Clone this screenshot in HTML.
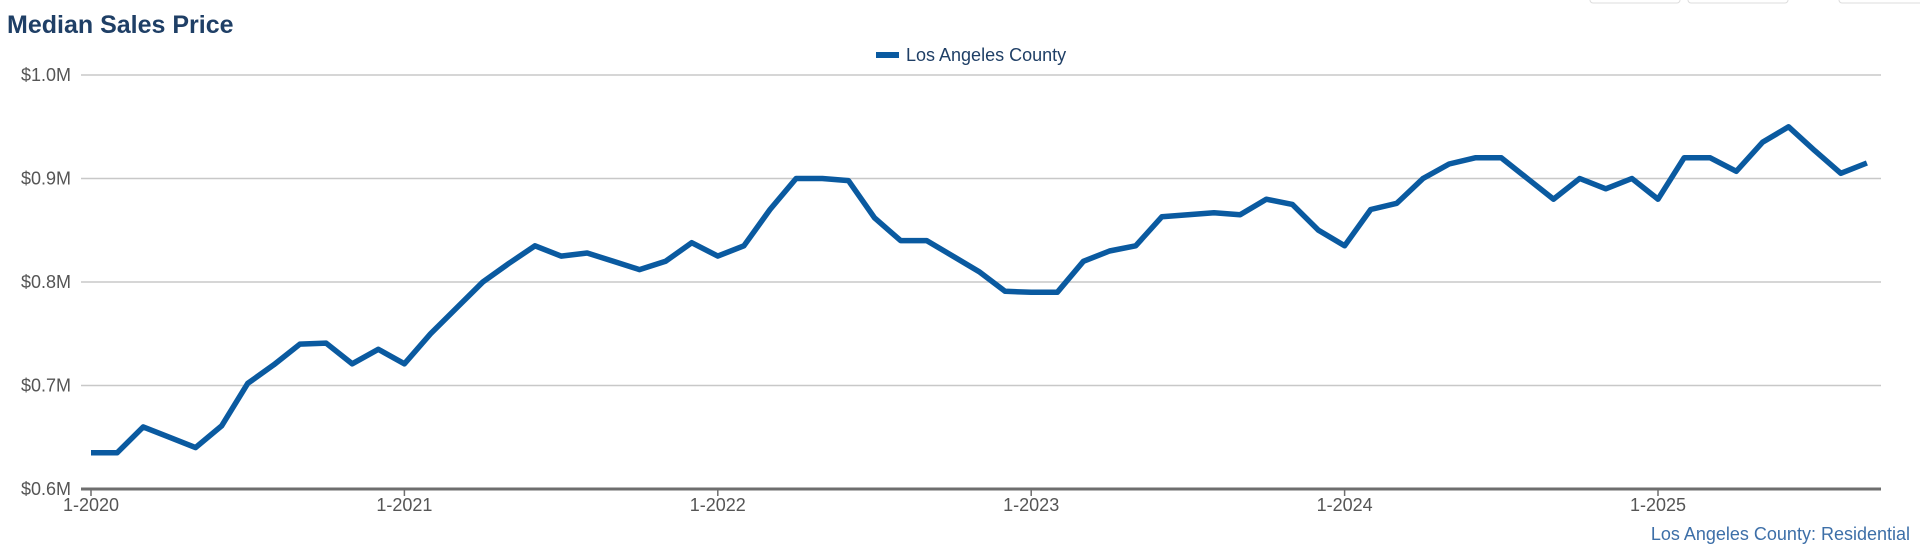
<!DOCTYPE html>
<html><head><meta charset="utf-8"><style>
body{margin:0;background:#fff;width:1920px;height:550px;overflow:hidden;font-family:"Liberation Sans",sans-serif}
</style></head><body>
<svg width="1920" height="550">
<rect x="1590" y="-6" width="90" height="9" rx="3" fill="none" stroke="#ddd"/>
<rect x="1688" y="-6" width="100" height="9" rx="3" fill="none" stroke="#ddd"/>
<rect x="1839" y="-6" width="90" height="9" rx="3" fill="none" stroke="#ddd"/>
<text x="7" y="33" font-size="25" font-weight="bold" fill="#1f3f66">Median Sales Price</text>
<g>
<rect x="876" y="52" width="23" height="6" fill="#0a5aa0"/>
<text x="906" y="61" font-size="18" fill="#1f3f66">Los Angeles County</text>
</g>
<g id="grid"></g><g id="xaxis"></g>
<path id="line" fill="none" stroke="#0a5aa0" stroke-width="5.5" stroke-linejoin="round"/>
<text x="1910" y="540" font-size="18" text-anchor="end" fill="#3d6fa8">Los Angeles County: Residential</text>
</svg>
<script>
const yTicks=[0.6,0.7,0.8,0.9,1.0];
const yTickLabels=["$0.6M","$0.7M","$0.8M","$0.9M","$1.0M"];
const xTickLabels=["1-2020","1-2021","1-2022","1-2023","1-2024","1-2025"];
const prices=[0.635,0.635,0.660,0.650,0.640,0.661,0.702,0.720,0.740,0.741,0.721,0.735,
0.721,0.750,0.775,0.800,0.818,0.835,0.825,0.828,0.820,0.812,0.820,0.838,
0.825,0.835,0.870,0.900,0.900,0.898,0.862,0.840,0.840,0.825,0.810,0.791,
0.790,0.790,0.820,0.830,0.835,0.863,0.865,0.867,0.865,0.880,0.875,0.850,
0.835,0.870,0.876,0.900,0.914,0.920,0.920,0.900,0.880,0.900,0.890,0.900,
0.880,0.920,0.920,0.907,0.935,0.950,0.927,0.905,0.915];
const NS="http://www.w3.org/2000/svg";
const X=i=>91+i*(1658-91)/60;
const Y=v=>489-(v-0.6)/0.4*(489-75);
const grid=document.getElementById('grid'),xa=document.getElementById('xaxis');
function mk(t,a,p){const e=document.createElementNS(NS,t);for(const k in a)e.setAttribute(k,a[k]);p.appendChild(e);return e;}
yTicks.forEach((v,i)=>{
  const y=Y(v);
  const l=mk('line',{x1:81,x2:1881,y1:y,y2:y,stroke:i==0?'#6e6e6e':'#c8c8c8','stroke-width':i==0?3:1.5},grid);
  
  
  const t=mk('text',{x:71,y:y+6,'font-size':18,'text-anchor':'end',fill:'#555'},grid);
  t.textContent=yTickLabels[i];
  
  
});
xTickLabels.forEach((s,i)=>{
  const x=X(i*12);
  const l=mk('line',{x1:x,x2:x,y1:489,y2:496,stroke:'#6e6e6e','stroke-width':1.5},xa);
  
  
  const t=mk('text',{x:x,y:511,'font-size':18,'text-anchor':'middle',fill:'#555'},xa);
  t.textContent=s;
  
  
});
document.getElementById('line').setAttribute('d',prices.map((v,i)=>(i?'L':'M')+X(i).toFixed(1)+','+Y(v).toFixed(1)).join(''));
</script>
</body></html>
